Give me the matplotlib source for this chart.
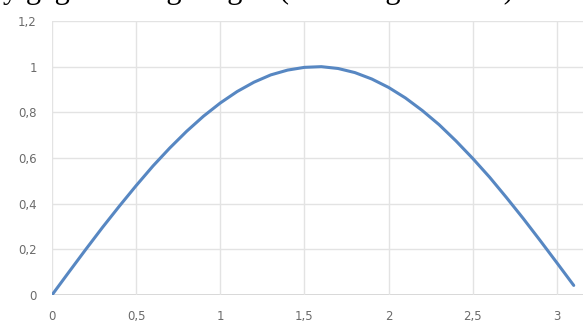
import matplotlib.pyplot as plt

# angle in radians and measured y values
x_vals = [0.0, 0.1, 0.2, 0.3, 0.4, 0.5, 0.6, 0.7, 0.8, 0.9, 1.0,
          1.1, 1.2, 1.3, 1.4, 1.5, 1.6, 1.7, 1.8, 1.9, 2.0,
          2.1, 2.2, 2.3, 2.4, 2.5, 2.6, 2.7, 2.8, 2.9, 3.0, 3.1]
y_vals = [0.0, 0.1, 0.199, 0.296, 0.389, 0.479, 0.565, 0.644, 0.717, 0.783, 0.841,
          0.891, 0.932, 0.964, 0.985, 0.997, 1.0, 0.992, 0.974, 0.946, 0.909,
          0.863, 0.808, 0.746, 0.675, 0.598, 0.516, 0.427, 0.335, 0.239, 0.141, 0.042]

x_ticks = [0, 0.5, 1, 1.5, 2, 2.5, 3]
y_ticks = [0, 0.2, 0.4, 0.6, 0.8, 1, 1.2]

def comma(v):
    return f"{v:g}".replace(".", ",")

fig = plt.figure(figsize=(5.83, 3.27), dpi=100)
ax = fig.add_axes([52 / 583, 32 / 327, (583 - 52) / 583, 274 / 327])

# caption line from the page above, only its lower part shows
fig.text(0.005, 1.0 + 2 / 327, "y gegen x eingetragen (Winkel gemessen)", family="Liberation Serif",
         fontsize=22, va="baseline", ha="left", color="black")

ax.plot(x_vals, y_vals, color="#5787c2", lw=2.2, solid_capstyle="round",
        solid_joinstyle="round")

ax.set_xlim(0, (583 - 52) / 168.3)
ax.set_ylim(0, 1.2)
ax.set_xticks(x_ticks)
ax.set_yticks(y_ticks)
ax.set_xticklabels([comma(v) for v in x_ticks])
ax.set_yticklabels([comma(v) for v in y_ticks])
ax.grid(True, color="#e3e3e3", lw=1)
ax.set_axisbelow(True)
for s in ax.spines.values():
    s.set_visible(False)
ax.axhline(0, color="#d0d0d0", lw=1.2, zorder=0)
ax.tick_params(length=0, labelsize=8.5, labelcolor="#6b6b6b")
ax.tick_params(axis="y", pad=11)
ax.tick_params(axis="x", pad=11)
for lab in ax.get_xticklabels() + ax.get_yticklabels():
    lab.set_family("DejaVu Sans")

plt.savefig("out.png", dpi=100)
